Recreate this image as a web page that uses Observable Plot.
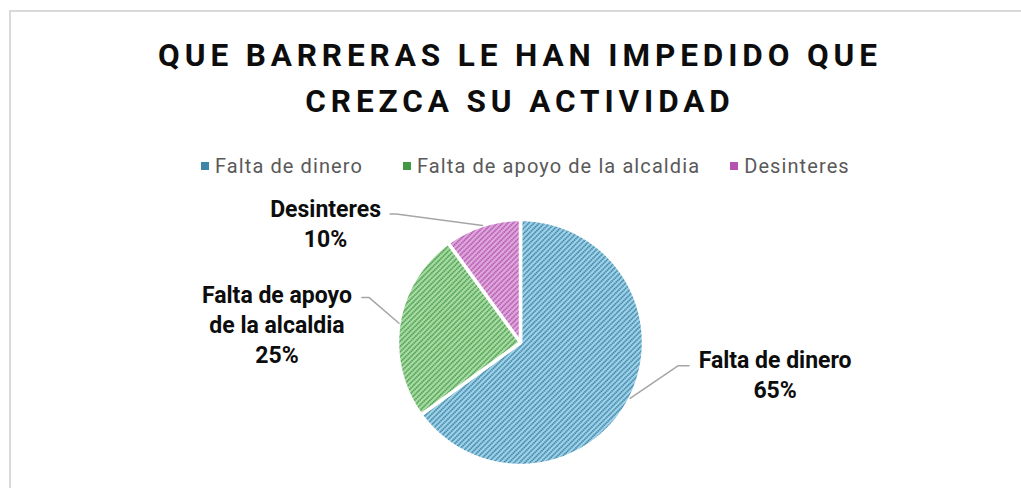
<!DOCTYPE html>
<html>
<head>
<meta charset="utf-8">
<script src="https://cdn.jsdelivr.net/npm/d3@7"></script>
<script src="https://cdn.jsdelivr.net/npm/@observablehq/plot@0.6"></script>
<style>
  html, body { margin: 0; padding: 0; background: #fff; }
  #wrap { position: relative; width: 1021px; height: 488px; overflow: hidden; background: #fff; }
  #frame { position: absolute; left: 9px; top: 10px; width: 1100px; height: 600px;
           border-left: 2px solid #d9d9d9; border-top: 2px solid #d9d9d9; }
  #title { position: absolute; left: 20px; width: 1000px; top: 33px; text-align: center;
           font-family: Roboto, sans-serif; font-weight: bold; font-size: 31.5px; line-height: 46px;
           letter-spacing: 4.9px; color: #0d0d0d; z-index: 2; }
  #legend { position: absolute; left: 201px; top: 154px; display: flex;
            font-family: Roboto, sans-serif; font-size: 20px; letter-spacing: 1.1px; color: #595959; z-index: 2; }
  #legend .item { display: flex; align-items: center; gap: 6px; }
  #legend svg { display: block; }
  #chart { position: absolute; left: 0; top: 0; z-index: 1; }
</style>
</head>
<body>
<div id="wrap">
  <div id="frame"></div>
  <div id="title">QUE BARRERAS LE HAN IMPEDIDO QUE<br>CREZCA SU ACTIVIDAD</div>
  <div id="legend"></div>
  <div id="chart"></div>
</div>
<script>
// ---- data ----
const categories = ["Falta de dinero", "Falta de apoyo de la alcaldia", "Desinteres"];
const values = [65, 25, 10];
const labelLines = [["Falta de dinero"], ["Falta de apoyo", "de la alcaldia"], ["Desinteres"]];

// ---- styles ----
const lightColors = ["#a0d2e8", "#aadca6", "#e0a9dc"];
const darkColors = ["#1f6f96", "#2f8c34", "#a53ea5"];
const legendColors = ["#3d86a8", "#3f9a43", "#b553b5"];
const legendGaps = [40, 30, 0];
const patternIds = ["patBlue", "patGreen", "patPink"];
// label layout (unit-circle coordinates): text center, leader elbow and leader end
const labelLayout = [
  { tx: 2.07, ty: -0.25, ex: 1.28, ey: -0.19, lx: 1.37, ly: -0.19 },
  { tx: -1.98, ty: 0.155, ex: -1.23, ey: 0.365, lx: -1.29, ly: 0.365 },
  { tx: -1.585, ty: 0.975, ex: -1.01, ey: 1.045, lx: -1.06, ly: 1.045 }
];

// ---- geometry via d3.pie ----
const arcs = d3.pie().sort(null).startAngle(0).endAngle(2 * Math.PI)(values);
const slices = arcs.map((a, i) => {
  const pts = [{ x: 0, y: 0 }];
  const n = Math.max(2, Math.ceil((a.endAngle - a.startAngle) / 0.005));
  for (let k = 0; k <= n; k++) {
    const t = a.startAngle + (a.endAngle - a.startAngle) * k / n;
    pts.push({ x: Math.sin(t), y: Math.cos(t) });
  }
  pts.push({ x: 0, y: 0 });
  const mid = (a.startAngle + a.endAngle) / 2;
  return { i, pts, mid };
});

const total = d3.sum(values);
const labels = slices.map(s => {
  const L = labelLayout[s.i];
  const pct = Math.round(values[s.i] / total * 100) + "%";
  return { x: L.tx, y: L.ty, text: [...labelLines[s.i], pct].join("\n") };
});
const leaders = slices.flatMap(s => {
  const L = labelLayout[s.i];
  return [
    { id: s.i, x: Math.sin(s.mid), y: Math.cos(s.mid) },
    { id: s.i, x: L.ex, y: L.ey },
    { id: s.i, x: L.lx, y: L.ly }
  ];
});

const cx = 520, cy = 342, R = 123;
const plot = Plot.plot({
  width: 1021,
  height: 488,
  margin: 0,
  x: { domain: [-1, 1], range: [cx - R, cx + R], axis: null },
  y: { domain: [-1, 1], range: [cy + R, cy - R], axis: null },
  style: { background: "transparent", overflow: "visible" },
  marks: [
    ...slices.map(s => Plot.line(s.pts, {
      x: "x", y: "y", fill: `url(#${patternIds[s.i]})`,
      stroke: "white", strokeWidth: 3.5, strokeLinejoin: "round", curve: "linear"
    })),
    Plot.line(leaders, { x: "x", y: "y", z: "id", stroke: "#a6a6a6", strokeWidth: 1.5 }),
    Plot.text(labels, {
      x: "x", y: "y", text: "text", lineHeight: 1.3,
      fontSize: 23, fontWeight: "bold", fontFamily: "Roboto, sans-serif", fill: "#0d0d0d",
      letterSpacing: "0.8px",
      textAnchor: "middle", lineAnchor: "middle"
    })
  ]
});

// pattern definitions
const svg = d3.select(plot);
const defs = svg.insert("defs", ":first-child");
patternIds.forEach((id, i) => {
  const p = defs.append("pattern").attr("id", id)
    .attr("patternUnits", "userSpaceOnUse")
    .attr("width", 4).attr("height", 3.7)
    .attr("patternTransform", "rotate(-45)");
  p.append("rect").attr("width", 4).attr("height", 3.7).attr("fill", lightColors[i]);
  p.append("line").attr("x1", 0).attr("x2", 4).attr("y1", 1.85).attr("y2", 1.85)
    .attr("stroke", darkColors[i]).attr("stroke-width", 1.5).attr("stroke-dasharray", "1.4 0.6");
});
document.getElementById("chart").appendChild(plot);

// legend
const legend = d3.select("#legend");
categories.forEach((c, i) => {
  const item = legend.append("div").attr("class", "item").style("margin-right", legendGaps[i] + "px");
  const s = item.append("svg").attr("width", 8).attr("height", 8);
  s.append("rect").attr("width", 8).attr("height", 8).attr("fill", legendColors[i]);
  item.append("span").text(c);
});
</script>
</body>
</html>
